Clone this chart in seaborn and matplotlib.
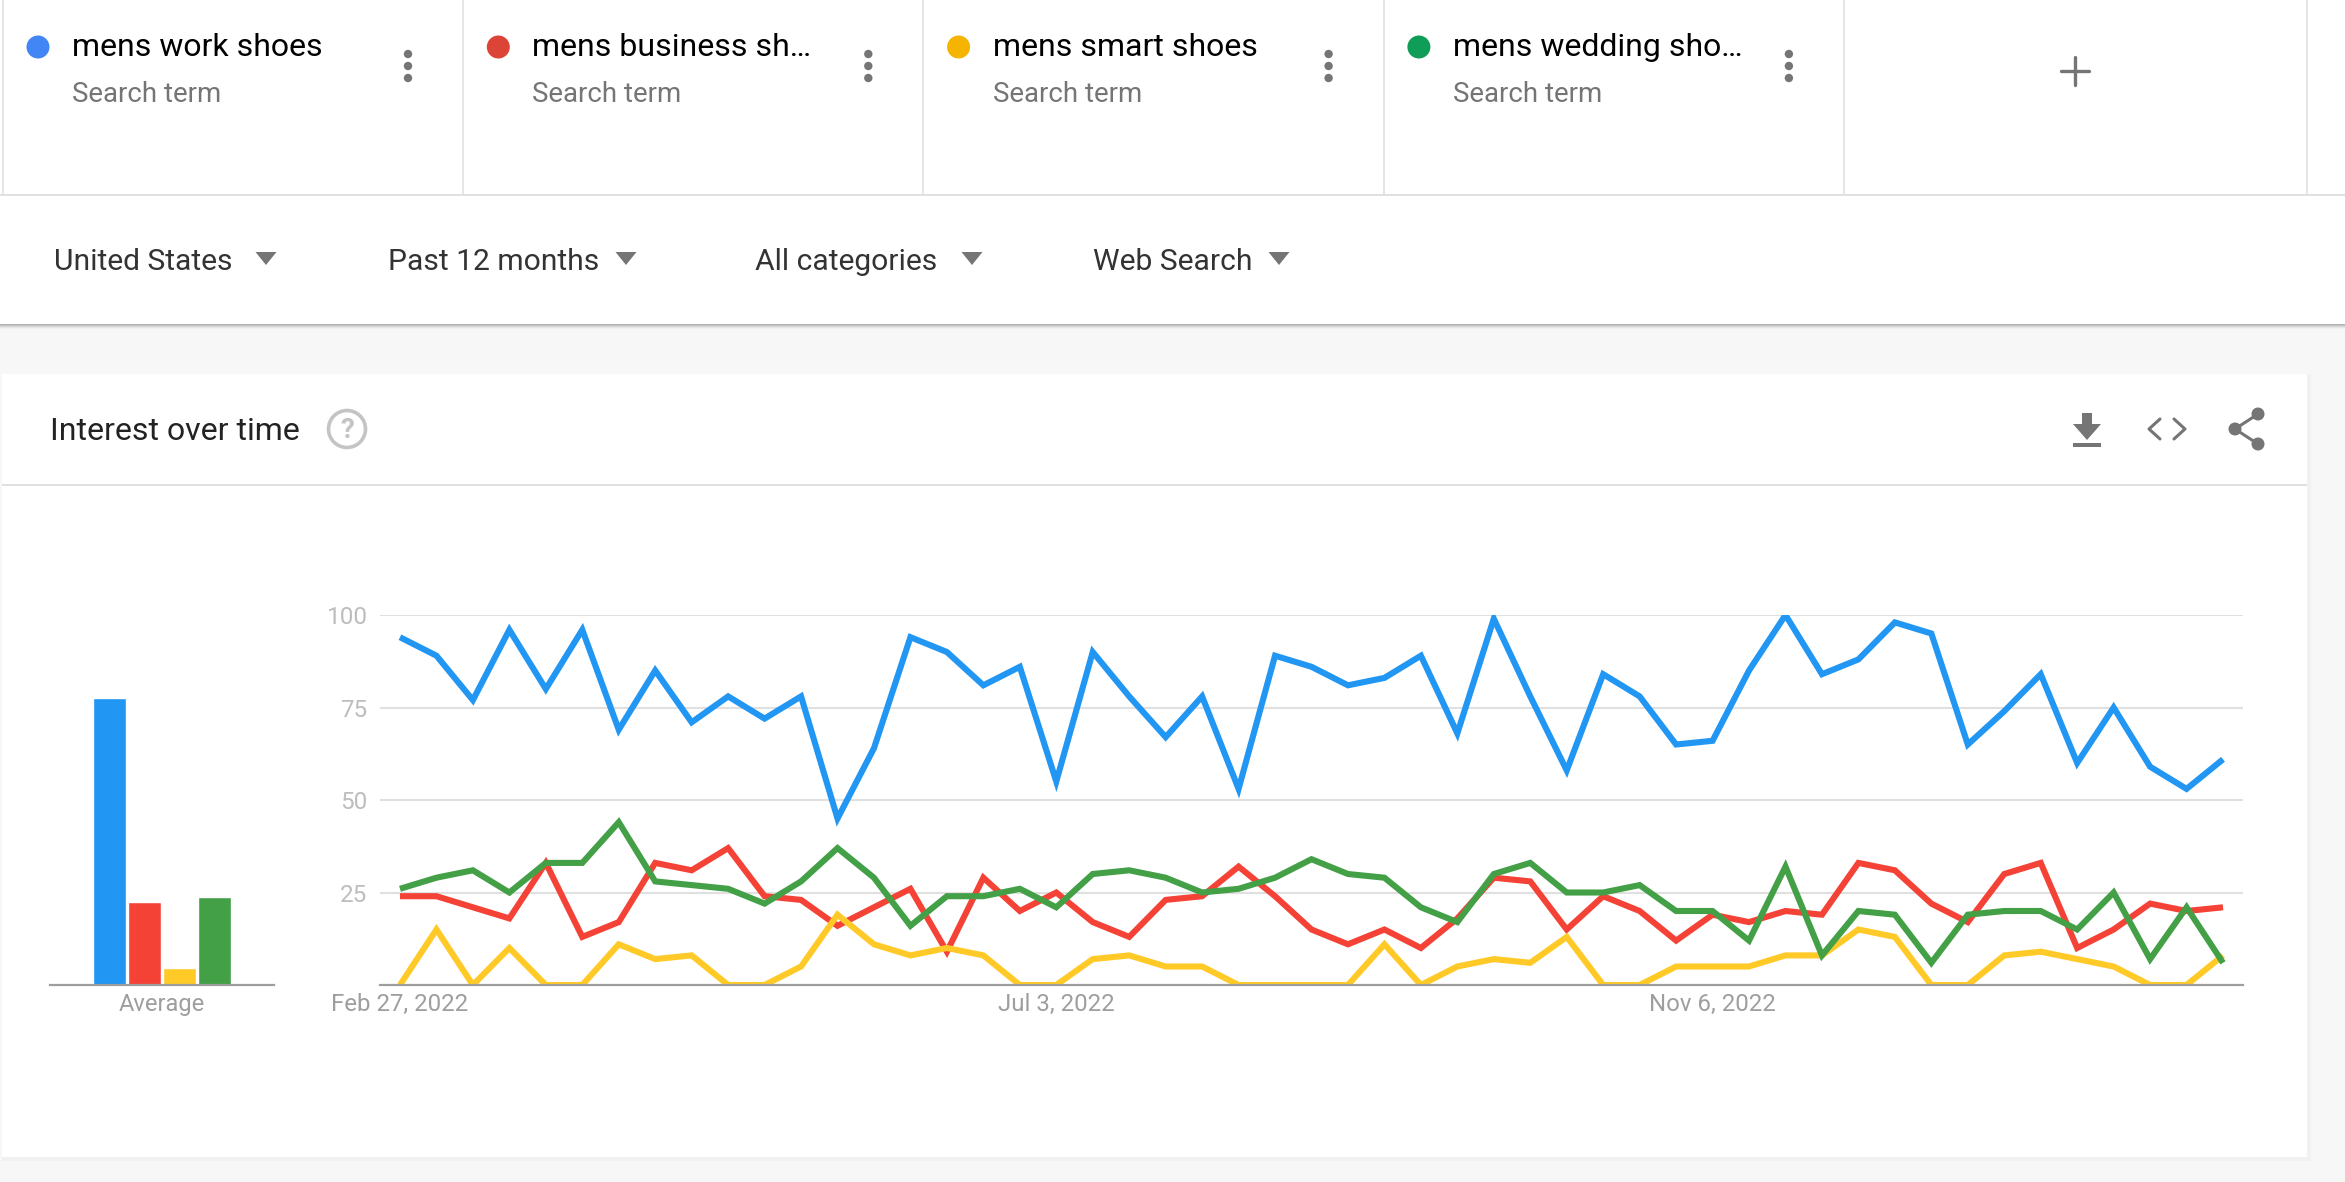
import matplotlib
matplotlib.use('Agg')
import matplotlib.pyplot as plt
import matplotlib.patches as mpatches
import pandas as pd
import seaborn as sns

# search terms and what the cards show
terms = ['mens work shoes', 'mens business shoes', 'mens smart shoes', 'mens wedding shoes']
card_titles = ['mens work shoes', 'mens business sh…', 'mens smart shoes', 'mens wedding sho…']
filters = ['United States', 'Past 12 months', 'All categories', 'Web Search']

# weekly interest
work = [94, 89, 77, 96, 80, 96, 69, 85, 71, 78, 72, 78, 45, 64, 94, 90, 81,
        86, 55, 90, 78, 67, 78, 53, 89, 86, 81, 83, 89, 68, 99, 78, 58,
        84, 78, 65, 66, 85, 100, 84, 88, 98, 95, 65, 74, 84, 60, 75, 59, 53, 61]
business = [24, 24, 21, 18, 33, 13, 17, 33, 31, 37, 24, 23, 16, 21, 26, 9, 29,
            20, 25, 17, 13, 23, 24, 32, 24, 15, 11, 15, 10, 18, 29, 28, 15,
            24, 20, 12, 19, 17, 20, 19, 33, 31, 22, 17, 30, 33, 10, 15, 22, 20, 21]
smart = [0, 15, 0, 10, 0, 0, 11, 7, 8, 0, 0, 5, 19, 11, 8, 10, 8,
         0, 0, 7, 8, 5, 5, 0, 0, 0, 0, 11, 0, 5, 7, 6, 13,
         0, 0, 5, 5, 5, 8, 8, 15, 13, 0, 0, 8, 9, 7, 5, 0, 0, 8]
wedding = [26, 29, 31, 25, 33, 33, 44, 28, 27, 26, 22, 28, 37, 29, 16, 24, 24,
           26, 21, 30, 31, 29, 25, 26, 29, 34, 30, 29, 21, 17, 30, 33, 25,
           25, 27, 20, 20, 12, 32, 8, 20, 19, 6, 19, 20, 20, 15, 25, 7, 21, 6]
averages = [77.6, 22.3, 4.6, 23.8]

y_ticks = [25, 50, 75, 100]
x_tick_labels = ['Feb 27, 2022', 'Jul 3, 2022', 'Nov 6, 2022']
x_tick_weeks = [0, 18, 36]

line_colors = ['#2196F3', '#F44336', '#FFCA28', '#43A047']
dot_colors = ['#4285F4', '#DB4437', '#F4B400', '#0F9D58']

W, H = 2345, 1182
GRAY = '#757575'


def axes_px(left, top, right, bottom):
    return fig.add_axes([left / W, 1 - bottom / H, (right - left) / W, (bottom - top) / H])


sns.set_theme(style='white')
plt.rcParams['font.family'] = ['Roboto', 'DejaVu Sans']

fig = plt.figure(figsize=(W / 100, H / 100), dpi=100, facecolor='#f7f7f7')

# page furniture, in pixel coordinates
bg = fig.add_axes([0, 0, 1, 1], zorder=0)
bg.set_xlim(0, W)
bg.set_ylim(H, 0)
bg.axis('off')

bg.add_patch(mpatches.Rectangle((0, 0), W, 324, fc='white', ec='none'))
bg.add_patch(mpatches.Rectangle((0, 194), W, 2, fc='#e0e0e0', ec='none'))
for x in [3, 463, 923, 1384, 1844, 2307]:
    bg.plot([x, x], [0, 194], color='#e0e0e0', lw=1.2)
# shadow under the filter bar
for i, c in enumerate(['#b4b4b4', '#c4c4c4', '#d6d6d6', '#e6e6e6', '#f0f0f0']):
    bg.add_patch(mpatches.Rectangle((0, 324 + i), W, 1.2, fc=c, ec='none'))

for i in range(4):
    cx = 38 + i * 460.3
    bg.add_patch(mpatches.Circle((cx, 47), 11.5, fc=dot_colors[i], ec='none'))
    bg.text(cx + 34, 47, card_titles[i], fontsize=23, color='#000000', va='center', ha='left')
    bg.text(cx + 34, 95, 'Search term', fontsize=19.9, color='#757575', va='center', ha='left')
    for y in [54, 66, 78]:
        bg.add_patch(mpatches.Circle((cx + 370, y), 4.2, fc=GRAY, ec='none'))

bg.plot([2061, 2089], [71, 71], color=GRAY, lw=2.4)
bg.plot([2075, 2075], [57, 85], color=GRAY, lw=2.4)

for name, x, tri in zip(filters, [54, 388.5, 755, 1093], [266, 626, 972, 1279]):
    bg.text(x, 262, name, fontsize=21.6, color='#333333', va='center', ha='left')
    bg.add_patch(mpatches.Polygon([(tri - 10.5, 252), (tri + 10.5, 252), (tri, 265)], fc=GRAY, ec='none'))

# chart card
for i, c in enumerate(['#dcdcdc', '#e8e8e8', '#f1f1f1']):
    bg.add_patch(mpatches.Rectangle((2, 374), 2305 + 2 + i, 783 + 2 + i, fc=c, ec='none'))
bg.add_patch(mpatches.Rectangle((2, 374), 2305, 783, fc='white', ec='none'))
bg.add_patch(mpatches.Rectangle((2, 484), 2305, 2, fc='#e0e0e0', ec='none'))
bg.text(50, 431, 'Interest over time', fontsize=23, color='#222222', va='center', ha='left')
bg.add_patch(mpatches.Circle((347, 429), 18.5, fc='none', ec='#c4c4c4', lw=2.6))
bg.text(347, 430, '?', fontsize=20, color='#c4c4c4', va='center', ha='center', fontweight='bold')

# download, embed and share icons
bg.add_patch(mpatches.Polygon([(2082, 413), (2092, 413), (2092, 424), (2101, 424), (2087, 440),
                               (2073, 424), (2082, 424)], fc=GRAY, ec='none'))
bg.add_patch(mpatches.Rectangle((2073, 443), 28, 4, fc=GRAY, ec='none'))
bg.plot([2160, 2149, 2160], [419, 429, 439], color=GRAY, lw=2.2)
bg.plot([2174, 2185, 2174], [419, 429, 439], color=GRAY, lw=2.2)
bg.plot([2258, 2235, 2258], [414, 429, 444], color=GRAY, lw=2.2)
for x, y in [(2258, 414), (2235, 429), (2258, 444)]:
    bg.add_patch(mpatches.Circle((x, y), 6.5, fc=GRAY, ec='none'))

# average bars
avg_ax = axes_px(50, 615, 274, 985)
avg_ax.set_zorder(1)
avg_ax.patch.set_alpha(0)
avg_df = pd.DataFrame({'term': terms, 'average': averages})
sns.barplot(data=avg_df, x='term', y='average', hue='term', palette=line_colors,
            width=0.95, dodge=False, legend=False, saturation=1, ax=avg_ax)
avg_ax.set_xlim(-1.69, 4.71)
avg_ax.set_ylim(0, 100)
avg_ax.set(xlabel='', ylabel='', yticks=[])
avg_ax.set_xticks([1.5])
avg_ax.set_xticklabels(['Average'], fontsize=17, color='#9e9e9e')
avg_ax.tick_params(axis='x', length=0, pad=5.5)
sns.despine(ax=avg_ax, left=True)
avg_ax.spines['bottom'].set_color('#9e9e9e')
avg_ax.spines['bottom'].set_linewidth(1.6)

# interest over time
weeks = list(range(len(work)))
long_df = pd.concat([pd.DataFrame({'week': weeks, 'interest': vals, 'term': term})
                     for term, vals in zip(terms, [work, business, smart, wedding])])

ax = axes_px(380, 615, 2243, 985)
ax.set_zorder(1)
ax.patch.set_alpha(0)
sns.lineplot(data=long_df, x='week', y='interest', hue='term', palette=line_colors,
             linewidth=4.4, legend=False, ax=ax, solid_joinstyle='miter', solid_capstyle='butt')
ax.set_xlim(-20 / 36.5, 50 + 20 / 36.5)
ax.set_ylim(0, 100)
ax.set(xlabel='', ylabel='')
ax.set_yticks(y_ticks)
ax.set_yticklabels(y_ticks, fontsize=17.5, color='#bdbdbd')
ax.set_xticks(x_tick_weeks)
ax.set_xticklabels(x_tick_labels, fontsize=17.3, color='#9e9e9e')
ax.tick_params(axis='x', length=0, pad=5.5)
ax.tick_params(axis='y', length=0, pad=9)
ax.grid(axis='y', color='#e0e0e0', linewidth=1.5)
ax.set_axisbelow(True)
sns.despine(ax=ax, left=True)
ax.spines['bottom'].set_color('#9e9e9e')
ax.spines['bottom'].set_linewidth(1.6)

plt.savefig('out.png', dpi=100, facecolor=fig.get_facecolor())
plt.close()
